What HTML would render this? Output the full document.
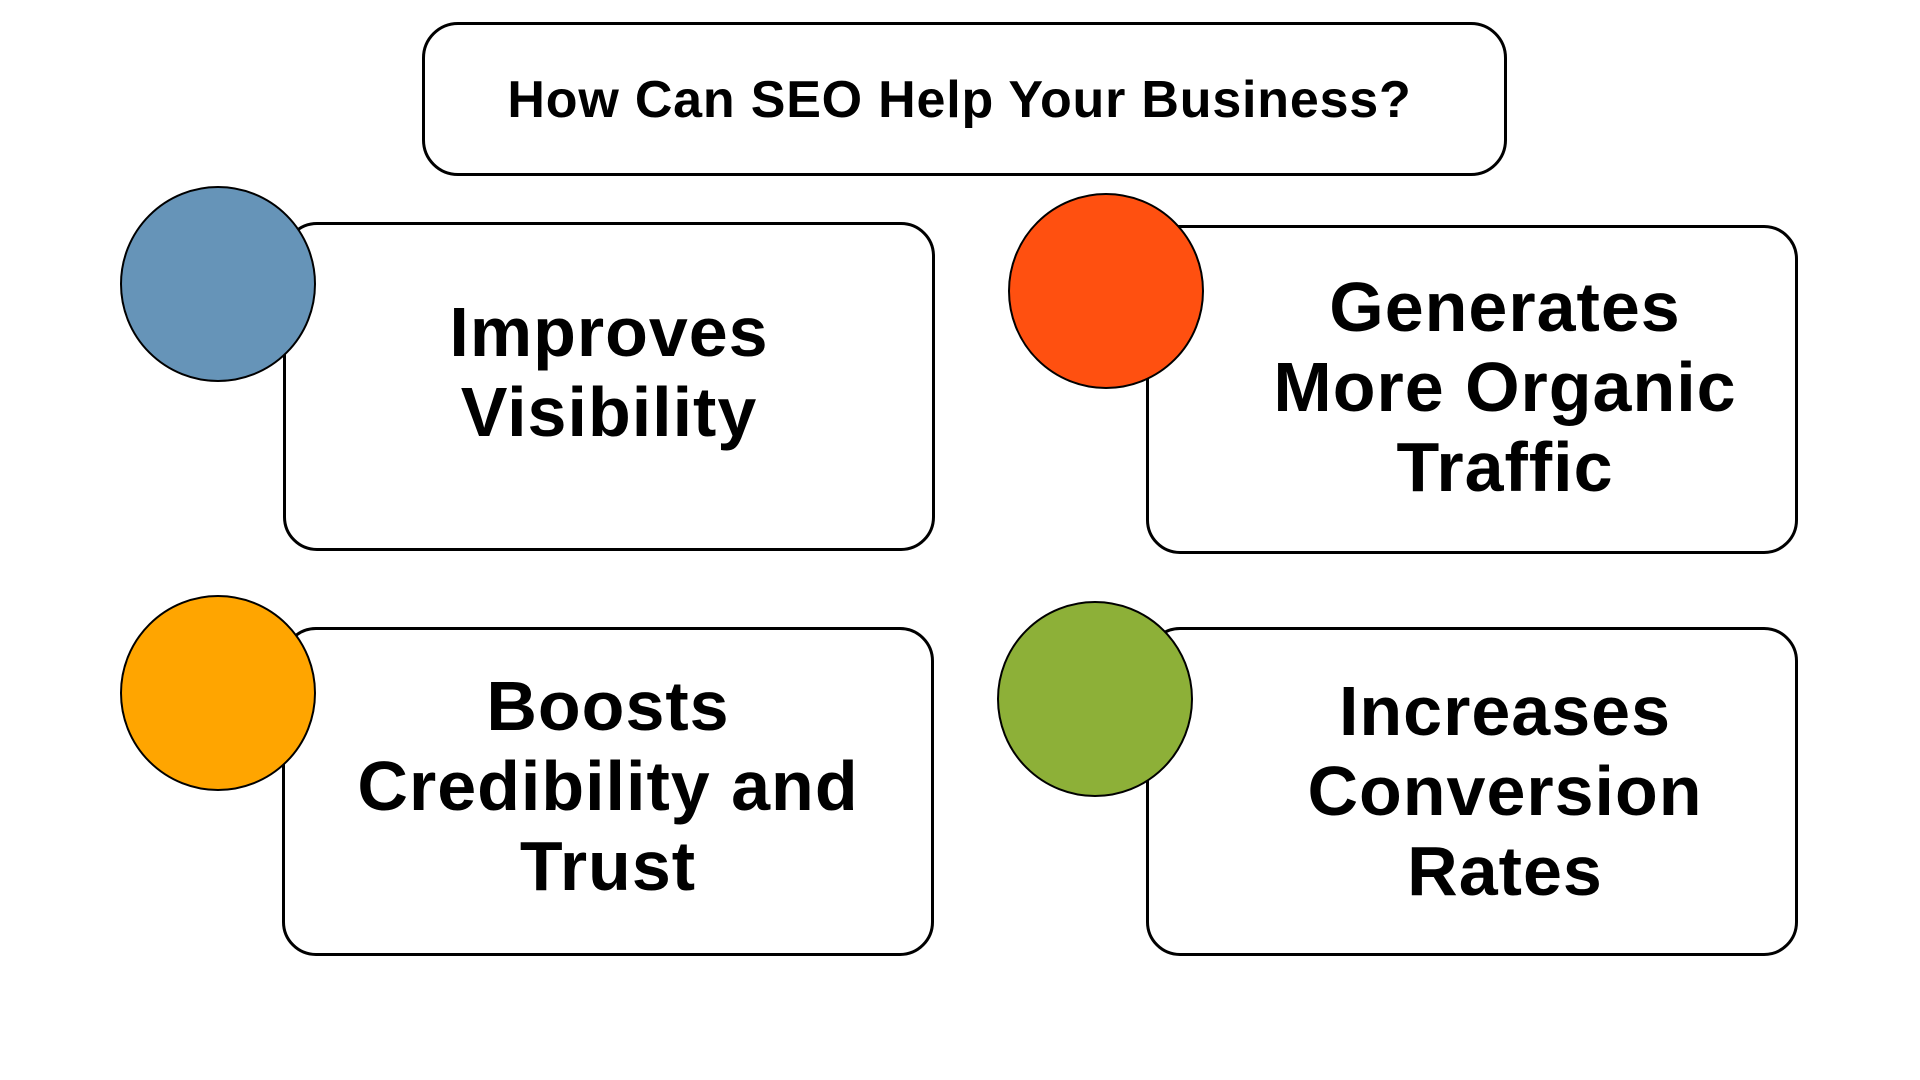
<!DOCTYPE html>
<html><head><meta charset="utf-8"><style>
html,body{margin:0;padding:0;background:#fff;}
body{width:1920px;height:1080px;position:relative;overflow:hidden;font-family:"Liberation Sans",sans-serif;font-weight:bold;color:#000;}
.box{position:absolute;border:3px solid #000;border-radius:34px;background:#fff;box-sizing:border-box;}
.c{position:absolute;border:2.5px solid #000;border-radius:50%;box-sizing:border-box;width:196px;height:196px;}
.t{position:absolute;left:0;width:100%;text-align:center;font-size:70px;line-height:80px;letter-spacing:1px;white-space:nowrap;}
</style></head><body>
<div class="box" style="left:422px;top:22px;width:1085px;height:154px;border-radius:36px;">
<div class="t" style="top:45px;left:-5px;font-size:52px;line-height:60px;letter-spacing:0.8px;">How Can SEO Help Your Business?</div></div>

<div class="box" style="left:283px;top:222px;width:652px;height:329px;">
<div class="t" style="top:67px;">Improves<br>Visibility</div></div>
<div class="c" style="left:120px;top:186px;background:#6694B8;"></div>

<div class="box" style="left:1146px;top:225px;width:652px;height:329px;">
<div class="t" style="top:39px;left:33px;">Generates<br>More Organic<br>Traffic</div></div>
<div class="c" style="left:1008px;top:193px;background:#FF5010;"></div>

<div class="box" style="left:282px;top:627px;width:652px;height:329px;">
<div class="t" style="top:36px;">Boosts<br>Credibility and<br>Trust</div></div>
<div class="c" style="left:120px;top:595px;background:#FFA500;"></div>

<div class="box" style="left:1146px;top:627px;width:652px;height:329px;">
<div class="t" style="top:41px;left:33px;">Increases<br>Conversion<br>Rates</div></div>
<div class="c" style="left:997px;top:601px;background:#8DB038;"></div>
</body></html>
